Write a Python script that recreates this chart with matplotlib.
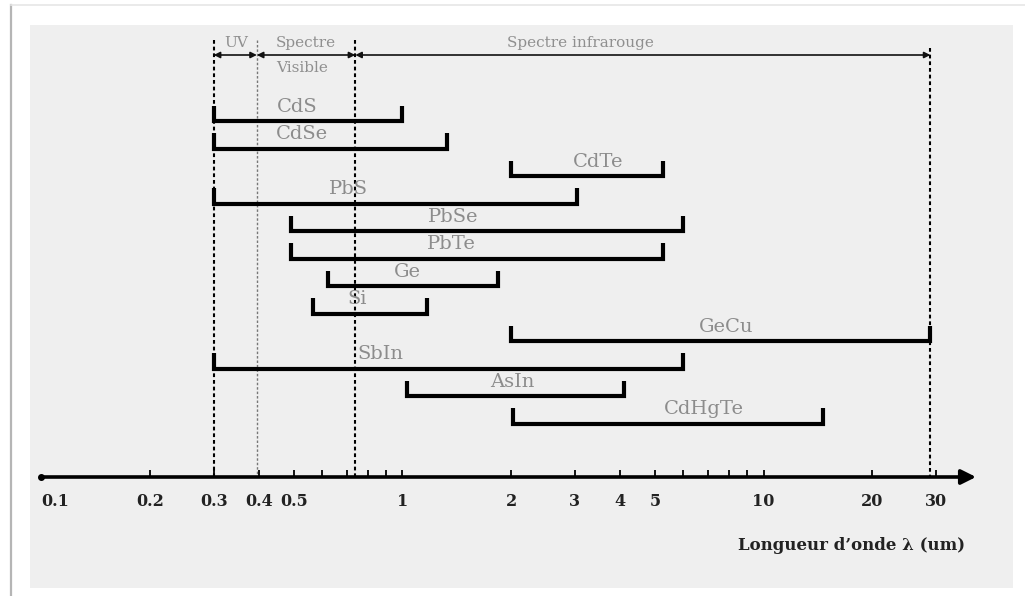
import numpy as np
import matplotlib
matplotlib.use('Agg')
import matplotlib.pyplot as plt
from matplotlib.patches import Rectangle
from matplotlib.lines import Line2D

# detector materials and spectral ranges (um)
materials = ['CdS', 'CdSe', 'CdTe', 'PbS', 'PbSe', 'PbTe', 'Ge', 'Si',
             'GeCu', 'SbIn', 'AsIn', 'CdHgTe']
lam_min = [0.3, 0.3, 2.0, 0.3, 0.49, 0.49, 0.62, 0.565, 2.0, 0.3, 1.03, 2.02]
lam_max = [1.0, 1.33, 5.26, 3.05, 6.0, 5.26, 1.84, 1.17, 29, 6.0, 4.1, 14.6]
label_at = [0.51, 0.527, 3.48, 0.71, 1.38, 1.37, 1.03, 0.75, 7.87, 0.87, 2.01, 6.84]

# spectral regions
bounds = [0.3, 0.395, 0.74, 29]

# axis ticks
tick_vals = [0.2, 0.3, 0.4, 0.5, 0.6, 0.7, 0.8, 0.9, 1, 2, 3, 4, 5, 6, 7, 8, 9, 10, 20, 30]
label_vals = [0.1, 0.2, 0.3, 0.4, 0.5, 1, 2, 3, 4, 5, 10, 20, 30]
label_txt = ['0.1', '0.2', '0.3', '0.4', '0.5', '1', '2', '3', '4', '5', '10', '20', '30']

W, H = 1025, 596
fig = plt.figure(figsize=(W / 100, H / 100), dpi=100)
fig.patch.set_facecolor('white')

def fx(p):
    return p / W

def fy(p):
    return 1 - p / H

# framed grey panel
fig.add_artist(Rectangle((fx(30), fy(588)), fx(983), 563 / H, transform=fig.transFigure,
                         facecolor='#efefef', edgecolor='none', zorder=-2))
fig.add_artist(Line2D([fx(11), fx(11)], [fy(5), 0], transform=fig.transFigure,
                      color='#b5b5b5', lw=1.6, zorder=-1))
fig.add_artist(Line2D([fx(11), 1], [fy(5), fy(5)], transform=fig.transFigure,
                      color='#e6e6e6', lw=1.2, zorder=-1))

ax = fig.add_axes([0, 0, 1, 1])
ax.axis('off')
ax.patch.set_alpha(0)
ax.set_xscale('log')
# 1 um at x=402.5 px, 361 px per decade; rows 27.5 px apart starting at y=121 px
ax.set_xlim(10 ** (-402.5 / 361), 10 ** ((W - 402.5) / 361))
ax.set_ylim((H - 121) / 27.5, -121 / 27.5)

def py(p):
    return (p - 121) / 27.5

def px(p):
    return 10 ** ((p - 402.5) / 361)

y_axis = py(477)

# bracket bars
h = 0.55
for i, (name, a, b, lx) in enumerate(zip(materials, lam_min, lam_max, label_at)):
    ax.plot([a, a, b, b], [i - h, i, i, i - h], color='black', lw=3.0,
            solid_joinstyle='miter', solid_capstyle='butt', zorder=3)
    ax.text(lx, i - 0.52, name, ha='center', va='center', fontsize=14,
            family='DejaVu Serif', color='#8c8c8c', zorder=4)

# region boundaries
for k, b in enumerate(bounds):
    top = py(48) if k == 3 else py(40)
    col = '#777777' if k == 1 else 'black'
    lw = 1.0 if k == 1 else 1.5
    ax.plot([b, b], [top, y_axis], color=col, lw=lw, ls=(0, (1.8, 1.4)), zorder=2)

# region arrows
y_top = py(55)
for a, b in zip(bounds[:-1], bounds[1:]):
    ax.annotate('', xy=(b, y_top), xytext=(a, y_top),
                arrowprops=dict(arrowstyle='<|-|>', color='#111111', lw=1.2,
                                mutation_scale=9, shrinkA=0, shrinkB=0))
top_kw = dict(ha='center', va='center', fontsize=11, family='DejaVu Serif', color='#8f8f8f')
ax.text(px(236), py(43), 'UV', **top_kw)
ax.text(px(306), py(43), 'Spectre', **top_kw)
ax.text(px(302), py(68), 'Visible', **top_kw)
ax.text(px(580), py(43), 'Spectre infrarouge', **top_kw)

# wavelength axis
ax.annotate('', xy=(px(976), y_axis), xytext=(0.1, y_axis),
            arrowprops=dict(arrowstyle='-|>', color='black', lw=2.6,
                            mutation_scale=22, shrinkA=0, shrinkB=0))
ax.plot([0.1], [y_axis], 'o', color='black', ms=4)
ax.vlines(tick_vals, y_axis - 0.26, y_axis, color='black', lw=1.3)
for v, t in zip(label_vals, label_txt):
    ax.text(v, py(502), t, ha='left' if v == 0.1 else 'center', va='center',
            fontsize=11.5, fontweight='bold', family='DejaVu Serif', color='#222222')
ax.text(px(965), py(546), 'Longueur d’onde λ (um)', ha='right', va='center',
        fontsize=12, fontweight='bold', family='DejaVu Serif', color='#222222')

fig.savefig('out.png', dpi=100)
